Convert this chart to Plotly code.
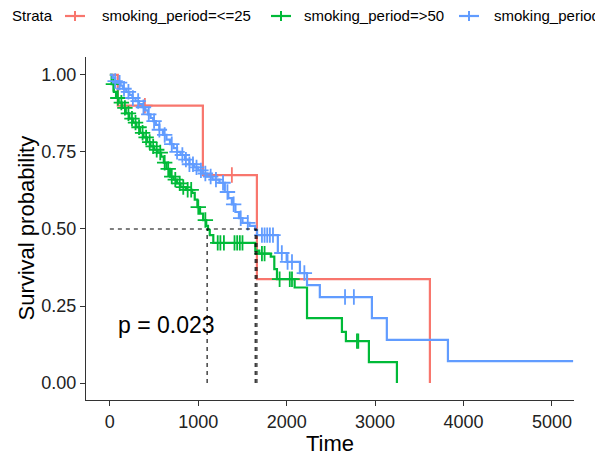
import plotly.graph_objects as go

# ---------------- data ----------------
red_t = [0, 90, 1052, 1663, 3620]
red_s = [1.0, 0.9, 0.675, 0.3375, 0.0]
red_cens = [396, 1380]

green_t = [0, 20, 45, 70, 100, 140, 180, 220, 260, 300, 340, 380, 420, 460, 500, 540,
           580, 610, 640, 680, 720, 760, 800, 860, 930, 960, 990, 1020, 1055, 1090, 1110,
           1130, 1170, 1645, 1690, 1820, 1860, 1890, 2090, 2230, 2625, 2670, 2930, 3247]
green_s = [1.0, 0.97, 0.945, 0.925, 0.91, 0.893, 0.875, 0.858, 0.845, 0.83, 0.812, 0.797,
           0.782, 0.768, 0.757, 0.748, 0.735, 0.715, 0.695, 0.67, 0.66, 0.648, 0.636, 0.627,
           0.617, 0.595, 0.571, 0.55, 0.529, 0.51, 0.497, 0.48, 0.455, 0.43, 0.42, 0.41,
           0.37, 0.337, 0.31, 0.211, 0.166, 0.136, 0.068, 0.0]
green_cens = [40, 90, 130, 170, 210, 250, 290, 330, 370, 410, 450, 490, 530, 570, 620,
              660, 700, 740, 790, 830, 880, 920, 1000, 1080, 1220, 1250, 1290, 1410, 1440,
              1470, 1500, 1720, 1750, 1920, 2035, 2060, 2795, 2810]

blue_t = [0, 30, 60, 90, 120, 150, 185, 220, 255, 290, 330, 370, 400, 430, 460, 490, 520,
          560, 600, 640, 680, 720, 760, 800, 850, 900, 950, 1000, 1050, 1100, 1160, 1240,
          1300, 1340, 1380, 1420, 1460, 1500, 1580, 1644, 1665, 1900, 2000, 2150, 2230,
          2375, 2964, 3133, 3824, 5240]
blue_s = [1.0, 0.99, 0.98, 0.975, 0.965, 0.955, 0.945, 0.935, 0.925, 0.915, 0.905, 0.895,
          0.885, 0.872, 0.86, 0.85, 0.838, 0.822, 0.805, 0.79, 0.775, 0.762, 0.75, 0.74,
          0.725, 0.71, 0.70, 0.69, 0.68, 0.67, 0.66, 0.65, 0.62, 0.60, 0.58, 0.555, 0.535,
          0.52, 0.51, 0.497, 0.48, 0.422, 0.393, 0.357, 0.318, 0.279, 0.211, 0.14, 0.071,
          0.071]
blue_cens = [60, 110, 160, 210, 260, 320, 380, 440, 500, 560, 620, 700, 760, 820, 860,
             900, 940, 980, 1030, 1080, 1140, 1200, 1280, 1330, 1400, 1480, 1560, 1720,
             1750, 1780, 1810, 1845, 1945, 2010, 2060, 2200, 2660, 2760]

medians = [1100, 1644, 1663]
pval_text = "p = 0.023"

series_names = ["smoking_period=<=25", "smoking_period=>50", "smoking_period=25-50"]
colors = ["#F8766D", "#00BA38", "#619CFF"]

x_ticks = [0, 1000, 2000, 3000, 4000, 5000]
y_ticks = [0, 0.25, 0.5, 0.75, 1.0]
y_tick_text = ["0.00", "0.25", "0.50", "0.75", "1.00"]

# ---------------- helpers ----------------
def surv_at(ts, ss, t):
    v = ss[0]
    for ti, si in zip(ts, ss):
        if ti <= t:
            v = si
    return v

W, H = 595, 459
L, R, T, B = 86, 21, 57, 59
pw, ph = W - L - R, H - T - B

def px_x(x):
    return (x - L) / pw

def px_y(y):
    return (H - B - y) / ph

FONT = "Liberation Sans, Arial, sans-serif"

fig = go.Figure()

groups = [(red_t, red_s, red_cens), (green_t, green_s, green_cens), (blue_t, blue_s, blue_cens)]
for (ts, ss, cens), name, col in zip(groups, series_names, colors):
    fig.add_trace(go.Scatter(x=ts, y=ss, mode="lines", line=dict(color=col, width=2.2, shape="hv"),
                             name=name, showlegend=False, hoverinfo="skip"))
    fig.add_trace(go.Scatter(x=cens, y=[surv_at(ts, ss, c) for c in cens], mode="markers",
                             marker=dict(symbol="cross-thin", size=11,
                                         line=dict(color=col, width=1.8)),
                             showlegend=False, hoverinfo="skip"))

# median lines
shapes = []
for m in medians:
    shapes.append(dict(type="line", xref="x", yref="y", x0=m, x1=m, y0=0, y1=0.5,
                       line=dict(color="black", width=1.1, dash="4px,4px")))
shapes.append(dict(type="line", xref="x", yref="y", x0=0, x1=max(medians), y0=0.5, y1=0.5,
                   line=dict(color="black", width=1.1, dash="4px,4px")))

# manual legend (cut off at the right edge like the reference)
annotations = []
ly = px_y(16)
annotations.append(dict(text="Strata", xref="paper", yref="paper", x=px_x(10), y=ly,
                        xanchor="left", yanchor="middle", showarrow=False,
                        font=dict(family=FONT, size=15, color="black")))
glyph_x = [75, 281, 469]
text_x = [100, 302, 492]
for gx, tx, name, col in zip(glyph_x, text_x, series_names, colors):
    shapes.append(dict(type="line", xref="paper", yref="paper", x0=px_x(gx - 10), x1=px_x(gx + 10),
                       y0=ly, y1=ly, line=dict(color=col, width=2.2)))
    shapes.append(dict(type="line", xref="paper", yref="paper", x0=px_x(gx), x1=px_x(gx),
                       y0=px_y(11), y1=px_y(21), line=dict(color=col, width=2)))
    annotations.append(dict(text=name, xref="paper", yref="paper", x=px_x(tx), y=ly,
                            xanchor="left", yanchor="middle", showarrow=False,
                            font=dict(family=FONT, size=15, color="black")))

# axis titles
annotations.append(dict(text="Time", xref="paper", yref="paper", x=0.5, y=px_y(443),
                        xanchor="center", yanchor="middle", showarrow=False,
                        font=dict(family=FONT, size=22, color="black")))
annotations.append(dict(text="Survival probability", xref="paper", yref="paper", x=px_x(26),
                        y=0.5, xanchor="center", yanchor="middle", showarrow=False, textangle=-90,
                        font=dict(family=FONT, size=22, color="black")))
# p-value
annotations.append(dict(text=pval_text, xref="x", yref="y", x=645, y=0.188,
                        xanchor="center", yanchor="middle", showarrow=False,
                        font=dict(family=FONT, size=23, color="black")))

fig.update_layout(
    width=W, height=H,
    margin=dict(l=L, r=R, t=T, b=B),
    paper_bgcolor="white", plot_bgcolor="white",
    shapes=shapes, annotations=annotations,
    showlegend=False,
    xaxis=dict(range=[-270, 5250], tickvals=x_ticks, ticks="outside", ticklen=5, tickwidth=1,
               tickcolor="#333", showline=True, linecolor="#333", linewidth=1.2,
               showgrid=False, zeroline=False,
               tickfont=dict(family=FONT, size=18, color="#222")),
    yaxis=dict(range=[-0.055, 1.058], tickvals=y_ticks, ticktext=y_tick_text, ticks="outside",
               ticklen=5, tickwidth=1, tickcolor="#333", showline=True, linecolor="#333",
               linewidth=1.2, showgrid=False, zeroline=False,
               tickfont=dict(family=FONT, size=18, color="#222")),
)

fig.write_html("out.html")
